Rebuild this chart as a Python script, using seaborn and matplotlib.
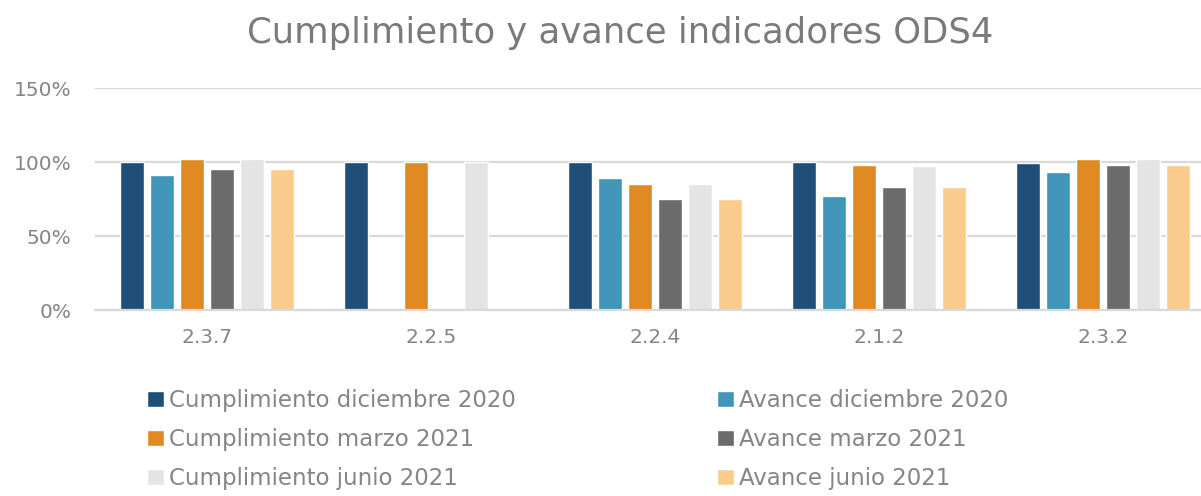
import pandas as pd
import seaborn as sns
import matplotlib.pyplot as plt
from matplotlib.ticker import PercentFormatter
from matplotlib.patches import Patch

# categorias (indicadores) y series
categorias = ['2.3.7', '2.2.5', '2.2.4', '2.1.2', '2.3.2']
series = [
    'Cumplimiento diciembre 2020',
    'Avance diciembre 2020',
    'Cumplimiento marzo 2021',
    'Avance marzo 2021',
    'Cumplimiento junio 2021',
    'Avance junio 2021',
]
cumpl_dic_2020 = [1.00, 1.00, 1.00, 1.00, 0.99]
avance_dic_2020 = [0.91, 0.00, 0.89, 0.77, 0.93]
cumpl_mar_2021 = [1.02, 1.00, 0.85, 0.98, 1.02]
avance_mar_2021 = [0.95, 0.00, 0.75, 0.83, 0.98]
cumpl_jun_2021 = [1.02, 1.00, 0.85, 0.97, 1.02]
avance_jun_2021 = [0.95, 0.00, 0.75, 0.83, 0.98]
colores = ['#1F4E79', '#4095B8', '#E08A24', '#6B6B6B', '#E4E4E4', '#F9CC8C']

valores = [cumpl_dic_2020, avance_dic_2020, cumpl_mar_2021,
           avance_mar_2021, cumpl_jun_2021, avance_jun_2021]
filas = []
for s, vals in zip(series, valores):
    for c, v in zip(categorias, vals):
        filas.append({'indicador': c, 'serie': s, 'valor': v})
df = pd.DataFrame(filas)

sns.set_style('white')
plt.rcParams['font.family'] = ['DejaVu Sans']
gris = '#858585'

fig = plt.figure(figsize=(12.01, 4.96), dpi=100)
ax = fig.add_axes([95 / 1201, 1 - 310 / 496, 1120 / 1201, 222 / 496])
sns.barplot(data=df, x='indicador', y='valor', hue='serie', order=categorias,
            hue_order=series, palette=colores, saturation=1, width=0.8, gap=0.2,
            ax=ax, legend=False)

ax.set_ylim(0, 1.5)
ax.set_xlim(-0.5, 4.5)
ax.set_yticks([0, 0.5, 1.0, 1.5])
ax.yaxis.set_major_formatter(PercentFormatter(1.0, decimals=0))
ax.yaxis.grid(True, color='#D9D9D9', linewidth=1.6)
ax.set_axisbelow(True)
for sp in ['top', 'right', 'left']:
    ax.spines[sp].set_visible(False)
ax.spines['bottom'].set_color('#D9D9D9')
ax.spines['bottom'].set_linewidth(1.6)
ax.tick_params(axis='y', length=0, pad=17, labelsize=14.5, labelcolor=gris)
ax.tick_params(axis='x', length=0, pad=13, labelsize=14.5, labelcolor=gris)
ax.set_xlabel('')
ax.set_ylabel('')

fig.text(620 / 1201, 1 - 33 / 496, 'Cumplimiento y avance indicadores ODS4',
         ha='center', va='center', fontsize=25.5, color='#7A7A7A')

# leyenda en dos columnas
for col, x0 in [(0, 138), (1, 708)]:
    handles = [Patch(facecolor=colores[i], label=series[i])
               for i in range(col, 6, 2)]
    fig.legend(handles=handles, loc='upper left',
               bbox_to_anchor=(x0 / 1201, 1 - 380 / 496),
               frameon=False, fontsize=16.5, labelcolor=gris,
               handlelength=0.72, handleheight=0.72, handletextpad=0.22,
               labelspacing=0.7, borderaxespad=0)

fig.savefig('out.png', dpi=100)
